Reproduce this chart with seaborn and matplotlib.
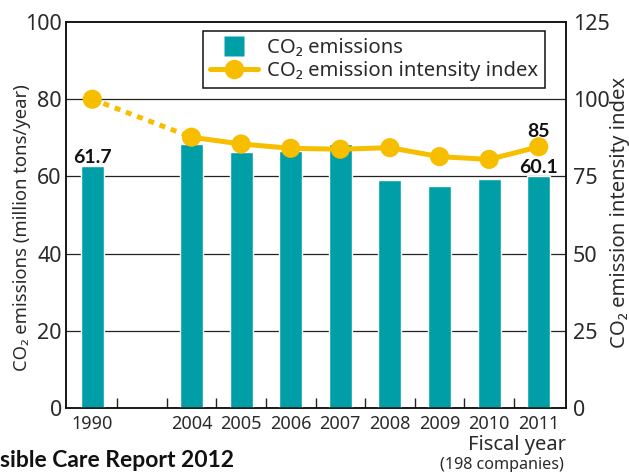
import matplotlib
matplotlib.use("Agg")
import matplotlib.pyplot as plt
from matplotlib.lines import Line2D
import seaborn as sns
import pandas as pd
import numpy as np

years = ["1990", "", "2004", "2005", "2006", "2007", "2008", "2009", "2010", "2011"]
bar_years = ["1990", "2004", "2005", "2006", "2007", "2008", "2009", "2010", "2011"]
emissions = [62.7, 68.5, 66.3, 66.6, 68.4, 59.1, 57.5, 59.3, 60.1]
intensity = [100, 87.7, 85.5, 84.1, 83.8, 84.3, 81.4, 80.5, 84.6]
left_ticks = [0, 20, 40, 60, 80, 100]
right_ticks = [0, 25, 50, 75, 100, 125]

TEAL = "#009FA8"
GOLD = "#F7BE00"
TXT = "#2a2a2a"
BOLD_FAMILY = ["Lato", "DejaVu Sans"]

sns.set_theme(style="white")
plt.rcParams["font.family"] = ["Noto Sans", "DejaVu Sans"]

fig = plt.figure(figsize=(6.29, 4.72), dpi=100)
ax = fig.add_axes([66 / 629, 1 - 408 / 472, 500 / 629, 386 / 472])

df = pd.DataFrame({"year": bar_years, "em": emissions})
sns.barplot(data=df, x="year", y="em", order=years, color=TEAL, saturation=1,
            width=0.46, ax=ax, zorder=3)

ax.set_ylim(0, 100)
ax.set_xlim(-0.53, 9.55)
ax.set_yticks(left_ticks)
ax.set_yticklabels([str(t) for t in left_ticks], fontsize=15.5, color=TXT)
for t in left_ticks[1:-1]:
    ax.axhline(t, color="#222222", lw=0.9, zorder=1)
ax.set_xticks(range(len(years)))
ax.set_xticklabels(years, fontsize=13, color=TXT)
ax.set_xticks(np.arange(0.5, len(years) - 1, 1.0), minor=True)
ax.tick_params(axis="x", which="major", length=0, pad=5)
ax.tick_params(axis="x", which="minor", length=7, width=1, direction="in", color="#222222", bottom=True)
ax.tick_params(axis="y", length=0, pad=3)
ax.set_xlabel("")
ax.set_ylabel("CO₂ emissions (million tons/year)", fontsize=13.3, color=TXT)
ax.yaxis.set_label_coords((31 - 66) / 500, (408 - 228) / 386)
for s in ax.spines.values():
    s.set_color("#111111")
    s.set_linewidth(1.1)

ax2 = ax.twinx()
ax2.set_ylim(0, 125)
ax2.set_yticks(right_ticks)
ax2.set_yticklabels([str(t) for t in right_ticks], fontsize=15.5, color=TXT)
ax2.tick_params(axis="y", length=0, pad=5)
ax2.set_ylabel("CO₂ emission intensity index", fontsize=14.6, color=TXT)
ax2.yaxis.set_label_coords((610 - 66) / 500, (408 - 212) / 386)
for s in ax2.spines.values():
    s.set_color("#111111")
    s.set_linewidth(1.1)

pos = [years.index(y) for y in bar_years]
ax2.plot(pos[:2], intensity[:2], color=GOLD, lw=3.6, ls=(0, (1.2, 1.2)), zorder=4)
line_df = pd.DataFrame({"x": pos[1:], "v": intensity[1:]})
sns.lineplot(data=line_df, x="x", y="v", color=GOLD, lw=3.6, ax=ax2, zorder=4)
sns.scatterplot(x=pos, y=intensity, color=GOLD, s=190, edgecolor="none", ax=ax2, zorder=5)
ax2.set_xlabel("")
ax2.set_xlim(-0.53, 9.55)

ax.annotate("61.7", (0, emissions[0]), xytext=(0, 3), textcoords="offset pixels",
            ha="center", va="baseline", fontsize=14, fontweight="bold",
            family=BOLD_FAMILY, color="#111111", zorder=6)
ax.annotate("60.1", (9, emissions[-1]), xytext=(0, 3), textcoords="offset pixels",
            ha="center", va="baseline", fontsize=14, fontweight="bold",
            family=BOLD_FAMILY, color="#111111", zorder=6)
ax2.annotate("85", (9, intensity[-1]), xytext=(0, 10), textcoords="offset pixels",
             ha="center", va="baseline", fontsize=14, fontweight="bold",
             family=BOLD_FAMILY, color="#111111", zorder=6)

handles = [
    Line2D([], [], marker="s", color="none", markerfacecolor=TEAL, markeredgecolor="none",
           markersize=14),
    Line2D([], [], marker="o", color=GOLD, lw=3.6, markersize=14, markeredgecolor="none"),
]
leg = ax2.legend(handles, ["CO₂ emissions", "CO₂ emission intensity index"],
                 loc="upper left", bbox_to_anchor=((203 - 66) / 500, (408 - 31) / 386),
                 borderaxespad=0, fontsize=14.6,
                 frameon=True, fancybox=False, framealpha=1, edgecolor="#111111",
                 handlelength=2.36, handletextpad=0.44, borderpad=0.35, labelspacing=0.15)
leg.get_frame().set_linewidth(1.1)
for t in leg.get_texts():
    t.set_color(TXT)

fig.text(566 / 629, 1 - 445 / 472, "Fiscal year", ha="right", va="center", fontsize=14.5, color=TXT)
fig.text(564 / 629, 1 - 465 / 472, "(198 companies)", ha="right", va="center", fontsize=11.6, color=TXT)
fig.text(234 / 629, 1 - 467 / 472, "Responsible Care Report 2012", ha="right", va="baseline",
         fontsize=16.5, fontweight="bold", family=BOLD_FAMILY, color="#111111")

fig.savefig("out.png", dpi=100)
